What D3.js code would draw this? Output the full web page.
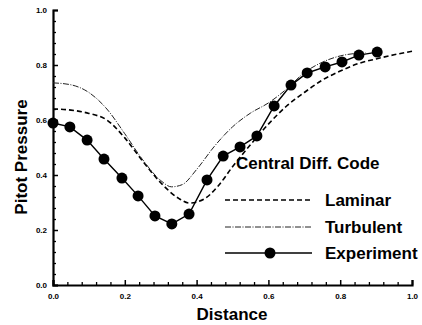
<!DOCTYPE html>
<html><head><meta charset="utf-8">
<script src="https://cdn.jsdelivr.net/npm/d3@7"></script>
<style>body{margin:0;background:#fff}svg{display:block}text{font-family:"Liberation Sans",Arial,sans-serif;font-weight:bold;fill:#000}</style>
</head><body><svg id="c" width="422" height="325"></svg>
<script>
const expX = [0.000,0.047,0.095,0.142,0.192,0.237,0.284,0.331,0.379,0.429,0.474,0.521,0.568,0.616,0.663,0.708,0.758,0.805,0.852,0.903];
const expY = [0.589,0.575,0.527,0.458,0.389,0.324,0.251,0.222,0.258,0.382,0.469,0.502,0.542,0.651,0.727,0.771,0.793,0.811,0.836,0.847];
const lamX = [0,0.05,0.10,0.15,0.20,0.25,0.30,0.35,0.38,0.42,0.46,0.50,0.55,0.60,0.65,0.70,0.75,0.80,0.85,0.90,0.95,1.0];
const lamY = [0.640,0.636,0.624,0.600,0.535,0.450,0.372,0.315,0.298,0.312,0.360,0.430,0.510,0.585,0.650,0.700,0.745,0.778,0.805,0.822,0.837,0.850];
const turX = [0,0.05,0.10,0.15,0.20,0.25,0.30,0.33,0.36,0.40,0.45,0.50,0.55,0.60,0.65,0.70,0.75,0.80,0.85,0.87];
const turY = [0.735,0.728,0.700,0.640,0.550,0.455,0.380,0.357,0.365,0.420,0.505,0.575,0.625,0.662,0.712,0.772,0.810,0.833,0.843,0.845];
const xTicks = [0.0,0.2,0.4,0.6,0.8,1.0];
const yTicks = [0.0,0.2,0.4,0.6,0.8,1.0];
const legendTitle = "Central Diff. Code";
const seriesNames = ["Laminar","Turbulent","Experiment"];

const svg = d3.select("#c");
const x = d3.scaleLinear().domain([0,1]).range([53,412]);
const y = d3.scaleLinear().domain([0,1]).range([285,10]);

// minor ticks
const minor = d3.range(0,1.0001,0.04).filter(v=>Math.abs(v*5-Math.round(v*5))>1e-6);
const gxm = svg.append("g").attr("transform","translate(0,285)")
  .call(d3.axisBottom(x).tickValues(minor).tickSize(-3).tickFormat(""));
const gym = svg.append("g").attr("transform","translate(53,0)")
  .call(d3.axisLeft(y).tickValues(minor).tickSize(-3).tickFormat(""));
[gxm,gym].forEach(g=>{g.select(".domain").remove();g.selectAll("line").attr("stroke","#000").attr("stroke-width",1.3);});

const gx = svg.append("g").attr("transform","translate(0,285)")
  .call(d3.axisBottom(x).tickValues(xTicks).tickSize(-5).tickPadding(11).tickFormat(d3.format(".1f")));
const gy = svg.append("g").attr("transform","translate(53,0)")
  .call(d3.axisLeft(y).tickValues(yTicks).tickSize(-5).tickPadding(11).tickFormat(d3.format(".1f")));
[gx,gy].forEach(g=>{
  g.select(".domain").attr("stroke","#000").attr("stroke-width",2.2);
  g.selectAll(".tick line").attr("stroke","#000").attr("stroke-width",1.5);
  g.selectAll(".tick text").attr("font-size",8).attr("font-weight","bold").attr("font-family","Liberation Sans, Arial, sans-serif").attr("fill","#000");
});
gy.selectAll(".tick text").attr("x",-6);
gx.selectAll(".tick text").attr("y",8);

const line = (xs,ys,curve)=>d3.line().x(d=>x(d[0])).y(d=>y(d[1])).curve(curve)(xs.map((v,i)=>[v,ys[i]]));

svg.append("path").attr("d",line(lamX,lamY,d3.curveMonotoneX)).attr("fill","none")
  .attr("stroke","#000").attr("stroke-width",1.6).attr("stroke-dasharray","5,3");
svg.append("path").attr("d",line(turX,turY,d3.curveMonotoneX)).attr("fill","none")
  .attr("stroke","#222").attr("stroke-width",1).attr("stroke-dasharray","6,1.5,1,1.5");
svg.append("path").attr("d",line(expX,expY,d3.curveLinear)).attr("fill","none")
  .attr("stroke","#000").attr("stroke-width",1.4);
svg.append("g").selectAll("circle").data(expX.map((v,i)=>[v,expY[i]])).join("circle")
  .attr("cx",d=>x(d[0])).attr("cy",d=>y(d[1])).attr("r",5.5).attr("fill","#000");

// legend
const lg = svg.append("g");
lg.append("text").attr("x",236).attr("y",169).attr("font-size",17).text(legendTitle);
const ly = [200,227,253];
const styles = [{dash:"5,3",w:1.6,c:"#000"},{dash:"6,1.5,1,1.5",w:1,c:"#222"},{dash:null,w:1.4,c:"#000"}];
seriesNames.forEach((n,i)=>{
  lg.append("line").attr("x1",225).attr("x2",312).attr("y1",ly[i]).attr("y2",ly[i])
    .attr("stroke",styles[i].c).attr("stroke-width",styles[i].w).attr("stroke-dasharray",styles[i].dash);
  lg.append("text").attr("x",325).attr("y",ly[i]+6).attr("font-size",17).text(n);
});
lg.append("circle").attr("cx",270).attr("cy",ly[2]).attr("r",5.5).attr("fill","#000");

svg.append("text").attr("x",232).attr("y",320).attr("text-anchor","middle").attr("font-size",17).text("Distance");
svg.append("text").attr("transform","translate(27,157) rotate(-90)").attr("text-anchor","middle").attr("font-size",17).text("Pitot Pressure");
</script></body></html>
